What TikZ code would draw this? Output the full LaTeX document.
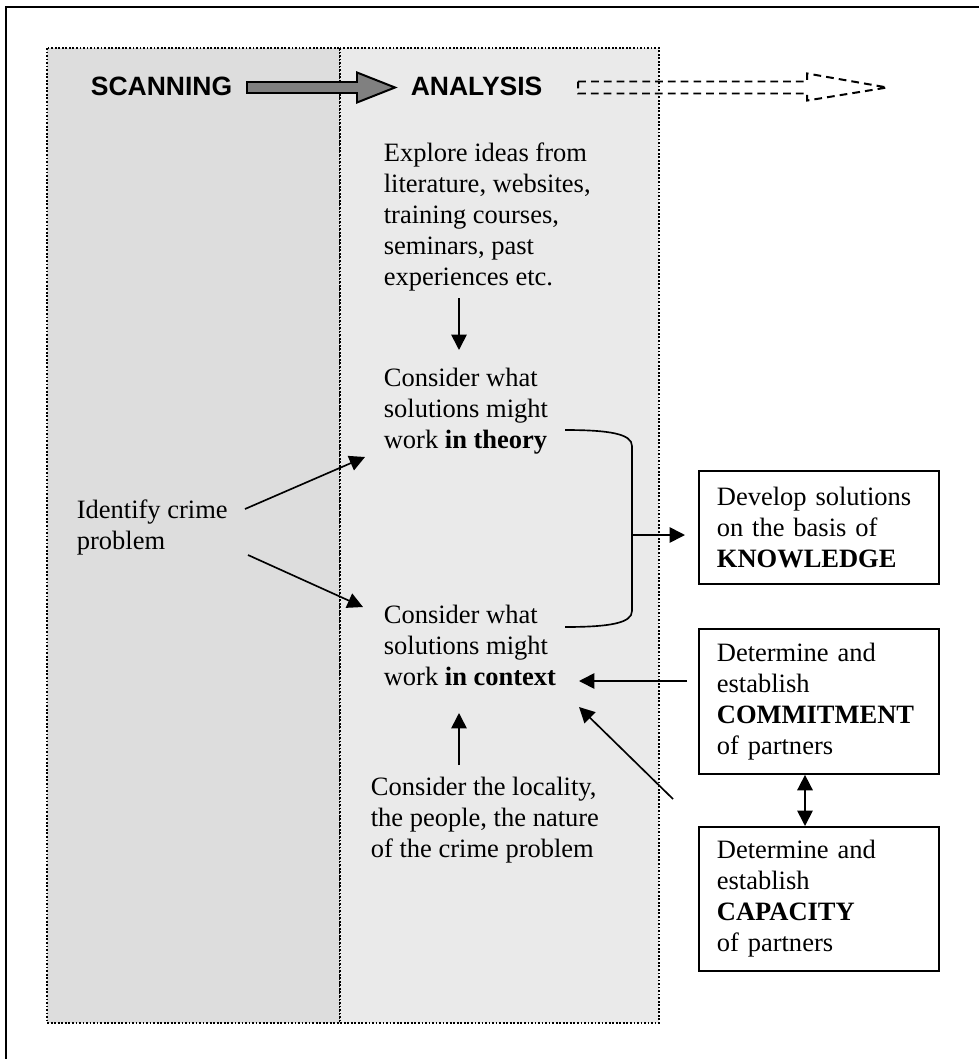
\documentclass[tikz,border=0pt]{standalone}
\usepackage{fontspec}
\setmainfont{Liberation Serif}
\newfontfamily\hdrfont{Liberation Sans}
\usetikzlibrary{arrows.meta, calc}
\definecolor{cscan}{HTML}{DDDDDD}
\definecolor{cana}{HTML}{EAEAEA}
\definecolor{cblock}{HTML}{808080}
\tikzset{
  every picture/.style={font=\fontsize{12}{14}\selectfont, line width=0.75pt},
  col/.style={fill=#1, draw=black, line width=0.8pt, dash pattern=on 0.8pt off 0.8pt},
  txt/.style={anchor=north west, inner sep=0pt, align=left},
  box/.style={draw, line width=0.8pt, anchor=north west, inner xsep=8.15pt, inner ysep=0pt, text width=92.4pt, align=left, minimum height=#1},
  box/.default=51pt,
  title/.style={font=\hdrfont\bfseries\fontsize{12}{14}\selectfont, anchor=base west, inner sep=0pt},
  arrow/.style={-{Triangle[length=7pt, width=7pt]}, line width=0.75pt},
  dblarrow/.style={{Triangle[length=7pt, width=7pt]}-{Triangle[length=7pt, width=7pt]}, line width=0.75pt},
  blockarrow/.style={fill=cblock, draw=black, line width=0.9pt},
  nextarrow/.style={draw=black, line width=0.9pt, dash pattern=on 3.5pt off 2.3pt},
}

\begin{document}
\begin{tikzpicture}[x=0.4528pt, y=-0.4528pt]
  \useasboundingbox (0,0) rectangle (979,1059);
  % frame and columns
  \draw[line width=0.9pt] (6,1059) -- (6,7) -- (979,7);
  \draw[col=cscan] (47,48) rectangle (340,1023);
  \draw[col=cana] (340,48) rectangle (659,1023);
  % headings
  \node[title] (scan) at (90,95) {SCANNING};
  \node[title] (ana) at (410,95) {ANALYSIS};
  \coordinate (ga) at ($(scan.base east)+(14,-7.5)$);
  \draw[blockarrow] (ga) +(0,-5.5) -- +(110,-5.5) -- +(110,-15) -- +(148,0)
    -- +(110,15) -- +(110,5.5) -- +(0,5.5) -- cycle;
  \coordinate (da) at ($(ana.base east)+(35,-7.5)$);
  \draw[nextarrow] (da) +(0,-6) -- +(229,-6) -- +(229,-14) -- +(309,0)
    -- +(229,13) -- +(229,6) -- +(0,6) -- cycle;
  % analysis column
  \node[txt] (explore) at (383,142) {Explore ideas from\\literature, websites,\\training courses,\\seminars, past\\experiences etc.};
  \node[txt] (theory) at (383,367) {Consider what\\solutions might\\work \textbf{in theory}};
  \node[txt] (context) at (383,604) {Consider what\\solutions might\\work \textbf{in context}};
  \node[txt] (locality) at (370,776) {Consider the locality,\\the people, the nature\\of the crime problem};
  % scanning column
  \node[txt] (identify) at (76,499) {Identify crime\\problem};
  % boxes on the right
  \node[box=51.2pt] (know) at (698,470) {Develop solutions\\on the basis of\\\textbf{KNOWLEDGE}};
  \node[box=65.7pt] (commit) at (698,628) {Determine and\\establish\\\textbf{COMMITMENT}\\of partners};
  \node[box=65.2pt] (capac) at (698,826) {Determine and\\establish\\\textbf{CAPACITY}\\of partners};
  % connectors
  \draw[arrow] ($(explore.north west)+(76,156)$) -- ($(theory.north west)+(76,-17)$);
  \draw[arrow] ($(identify.north west)+(169,10)$) -- ($(theory.north west)+(-18,90)$);
  \draw[arrow] ($(identify.north west)+(172,56)$) -- ($(context.north west)+(-20,3)$);
  \draw[arrow] ($(locality.north west)+(89,-11)$) -- ($(context.north west)+(76,109)$);
  \draw[arrow] ($(commit.north west)+(-11,53)$) -- ($(context.north west)+(196,77)$);
  \draw[arrow] ($(capac.north west)+(-25,-27)$) -- ($(context.north west)+(196,103)$);
  \draw[dblarrow] ($(commit.south west)+(107,0)$) -- ($(capac.north west)+(107,0)$);
  % bracket
  \coordinate (b1) at ($(theory.north west)+(182,63)$);
  \coordinate (b4) at ($(context.north west)+(182,23)$);
  \coordinate (brk) at ($(theory.north west)+(249,168)$);
  \draw (b1) .. controls +(45,0) and +(0,-12) .. ($(b1 -| brk)+(0,16)$)
    -- ($(b4 -| brk)+(0,-16)$) .. controls +(0,12) and +(45,0) .. (b4);
  \draw[arrow] (brk) -- ($(brk -| know.west)+(-13,0)$);
\end{tikzpicture}
\end{document}
